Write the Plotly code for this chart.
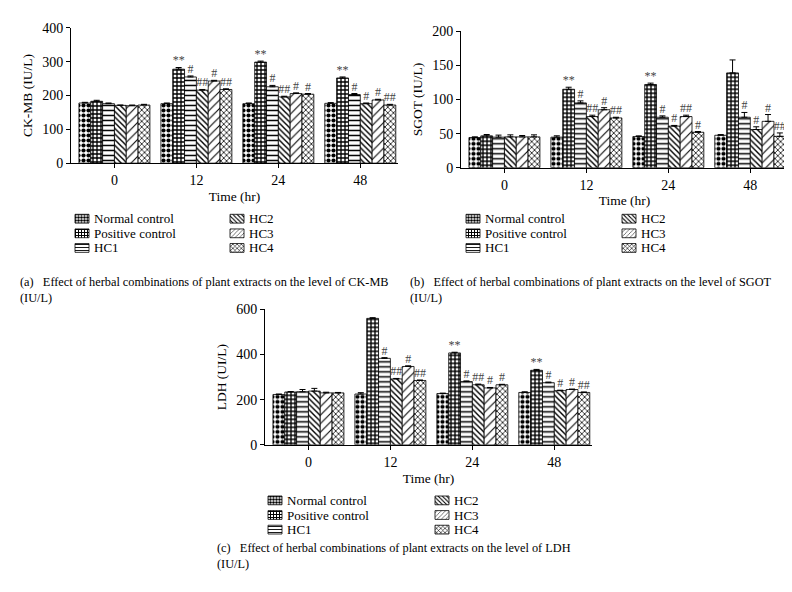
import plotly.graph_objects as go

W, H = 792, 592
FONT = "Liberation Serif"

times = ["0", "12", "24", "48"]
groups = ["Normal control", "Positive control", "HC1", "HC2", "HC3", "HC4"]

# CK-MB (IU/L): one row per group, one value per time point
ckmb_values = [
    [178, 176, 176, 177],
    [183, 278, 299, 252],
    [176, 255, 226, 203],
    [171, 216, 196, 176],
    [170, 243, 206, 187],
    [172, 218, 204, 172],
]
ckmb_errors = [
    [2, 2, 2, 2],
    [3, 5, 3, 3],
    [2, 3, 4, 3],
    [1, 2, 2, 2],
    [2, 2, 2, 2],
    [2, 2, 2, 2],
]
ckmb_marks = [
    ["", "", "", ""],
    ["", "**", "**", "**"],
    ["", "#", "#", "#"],
    ["", "##", "##", "#"],
    ["", "#", "#", "#"],
    ["", "##", "#", "##"],
]

# SGOT (IU/L)
sgot_values = [
    [44.3, 44.8, 45.7, 47.6],
    [46.7, 115, 122, 139],
    [44.8, 95, 74, 74],
    [45.2, 75, 61, 56],
    [45.2, 85, 75, 68],
    [45.2, 73, 52, 46],
]
sgot_errors = [
    [1, 2, 1, 1],
    [2, 3, 2, 19],
    [3, 3, 2, 7],
    [3, 2, 1, 4],
    [2, 3, 2, 10],
    [3, 1, 1, 5],
]
sgot_marks = [
    ["", "", "", ""],
    ["", "**", "**", ""],
    ["", "#", "#", "#"],
    ["", "##", "#", "#"],
    ["", "#", "##", "#"],
    ["", "##", "#", "##"],
]

# LDH (UI/L)
ldh_values = [
    [223, 225, 227, 232],
    [234, 560, 407, 330],
    [235, 383, 280, 275],
    [238, 292, 266, 240],
    [230, 347, 252, 245],
    [230, 285, 266, 232],
]
ldh_errors = [
    [2, 6, 2, 3],
    [2, 3, 3, 4],
    [10, 3, 3, 3],
    [12, 2, 3, 2],
    [3, 3, 2, 2],
    [2, 2, 2, 2],
]
ldh_marks = [
    ["", "", "", ""],
    ["", "", "**", "**"],
    ["", "#", "#", "#"],
    ["", "##", "##", "#"],
    ["", "#", "#", "#"],
    ["", "##", "#", "##"],
]

# fill pattern for each group: (shape, size, solidity)
patterns = [
    (".", 5, 0.55),
    ("+", 4, 0.55),
    ("-", 5, 0.3),
    ("\\", 4, 0.35),
    ("/", 6, 0.18),
    ("x", 4, 0.35),
]

bar_gap = 0.134
bar_w = (1 - bar_gap) / len(groups)
xs = list(range(len(times)))

gap = "&nbsp;" * 3
# pixel boxes of the three plots (left, right, top, bottom)
panels = [
    dict(values=ckmb_values, errors=ckmb_errors, marks=ckmb_marks, n="",
         box=(63, 390, 13.3, 152), ymax=400, dtick=100, ytitle="CK-MB (IU/L)",
         legend_cols=(67, 222), legend_rows=(209, 224, 239),
         caption=(10, 282, "(a)" + gap + "Effect of herbal combinations of plant extracts on the level of CK-MB<br>(IU/L)")),
    dict(values=sgot_values, errors=sgot_errors, marks=sgot_marks, n="2",
         box=(453, 780, 16.7, 156.7), ymax=200, dtick=50, ytitle="SGOT (IU/L)",
         legend_cols=(458, 614), legend_rows=(209, 224, 239),
         caption=(400, 282, "(b)" + gap + "Effect of herbal combinations of plant extracts on the level of SGOT<br>(IU/L)")),
    dict(values=ldh_values, errors=ldh_errors, marks=ldh_marks, n="3",
         box=(257, 584, 302, 441), ymax=600, dtick=200, ytitle="LDH (UI/L)",
         legend_cols=(260, 427), legend_rows=(498, 513, 528),
         caption=(207, 555, "(c)" + gap + "Effect of herbal combinations of plant extracts on the level of LDH<br>(IU/L)")),
]

fig = go.Figure()

for p in panels:
    xa, ya = "x" + p["n"], "y" + p["n"]
    for i, g in enumerate(groups):
        shape, size, sol = patterns[i]
        fig.add_trace(go.Bar(
            x=xs, y=p["values"][i], name=g, xaxis=xa, yaxis=ya,
            showlegend=False,
            marker=dict(color="white", line=dict(color="black", width=0.8),
                        pattern=dict(shape=shape, size=size, solidity=sol,
                                     fgcolor="black", bgcolor="white",
                                     fillmode="overlay", fgopacity=1)),
            error_y=dict(type="data", symmetric=False, array=p["errors"][i],
                         arrayminus=[0] * len(times), color="black",
                         thickness=1, width=3),
        ))
        # significance marks above each bar
        fig.add_trace(go.Scatter(
            x=[x + (i - 2.5) * bar_w for x in xs],
            y=[v + e for v, e in zip(p["values"][i], p["errors"][i])],
            text=p["marks"][i], mode="text", textposition="top center",
            textfont=dict(family=FONT, size=12, color="#444"),
            xaxis=xa, yaxis=ya, showlegend=False, hoverinfo="skip",
            cliponaxis=False,
        ))

    l, r, t, b = p["box"]
    fig.layout["xaxis" + p["n"]] = dict(
        domain=[l / W, r / W], anchor=ya, range=[-0.53, 3.46],
        tickvals=xs, ticktext=times, showline=True, linecolor="black",
        linewidth=1, ticks="outside", ticklen=4, tickcolor="black",
        showgrid=False, zeroline=False, tickfont=dict(size=14),
        title=dict(text="Time (hr)", font=dict(size=13.5), standoff=4),
    )
    fig.layout["yaxis" + p["n"]] = dict(
        domain=[1 - b / H, 1 - t / H], anchor=xa, range=[0, p["ymax"]],
        dtick=p["dtick"], showline=True, linecolor="black", linewidth=1,
        ticks="outside", ticklen=4, tickcolor="black", showgrid=False,
        zeroline=False, tickfont=dict(size=14),
        title=dict(text=p["ytitle"], font=dict(size=13.5), standoff=6),
    )

    # legend text; swatches are small patterned bars on a pixel-space overlay axis
    c1, c2 = p["legend_cols"]
    rows = p["legend_rows"]
    for i, g in enumerate(groups):
        cx = c1 if i < 3 else c2
        ry = rows[i % 3]
        fig.add_annotation(x=(cx + 18) / W, y=1 - ry / H, xref="paper", yref="paper",
                           text=g, showarrow=False, xanchor="left", yanchor="middle",
                           borderpad=0,
                           font=dict(family=FONT, size=13, color="black"))

    cx, cy, ctext = p["caption"]
    fig.add_annotation(x=cx / W, y=1 - cy / H, xref="paper", yref="paper",
                       text=ctext, showarrow=False, xanchor="left", yanchor="middle",
                       align="left", font=dict(family=FONT, size=12.3, color="black"))

for i, g in enumerate(groups):
    shape, size, sol = patterns[i]
    bx, by = [], []
    for p in panels:
        c1, c2 = p["legend_cols"]
        bx.append(c1 if i < 3 else c2)
        by.append(p["legend_rows"][i % 3])
    fig.add_trace(go.Bar(
        y=by, x=[14] * len(by), base=bx, orientation="h", width=9, offset=-4.5,
        xaxis="x4", yaxis="y4", showlegend=False, hoverinfo="skip",
        marker=dict(color="white", line=dict(color="black", width=0.8),
                    pattern=dict(shape=shape, size=3, solidity=sol,
                                 fgcolor="black", bgcolor="white",
                                 fillmode="overlay", fgopacity=1)),
    ))

fig.update_layout(
    xaxis4=dict(domain=[0, 1], range=[0, W], visible=False, anchor="y4", fixedrange=True),
    yaxis4=dict(domain=[0, 1], range=[H, 0], visible=False, anchor="x4", fixedrange=True),
)

fig.update_layout(
    width=W, height=H,
    margin=dict(l=0, r=0, t=0, b=0),
    barmode="group", bargap=bar_gap, bargroupgap=0,
    paper_bgcolor="white", plot_bgcolor="rgba(0,0,0,0)",
    font=dict(family=FONT, color="black"),
    showlegend=False,
)

fig.write_html("out.html")
